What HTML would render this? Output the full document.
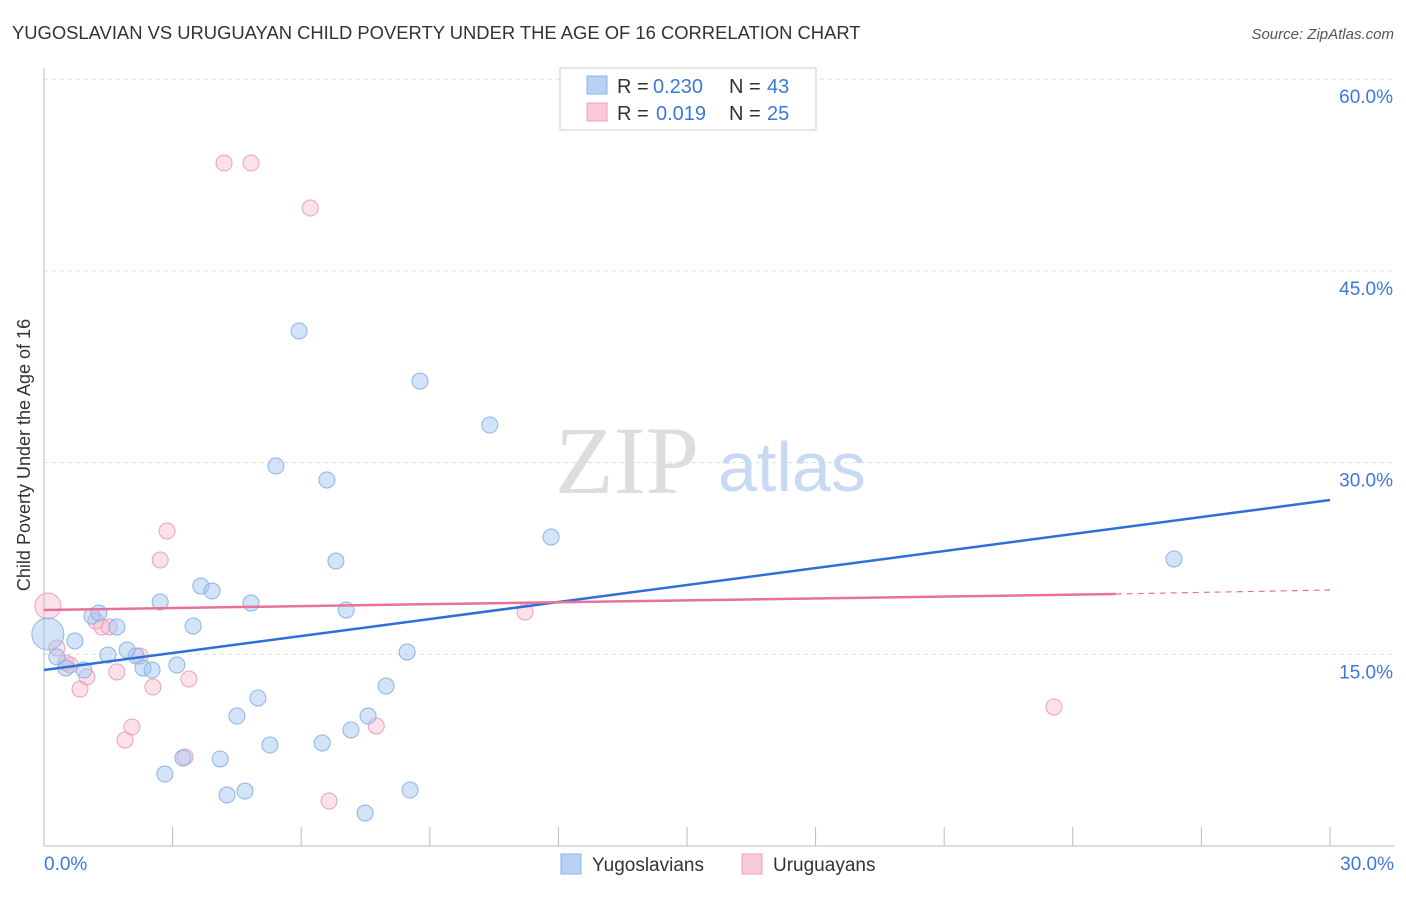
<!DOCTYPE html>
<html><head><meta charset="utf-8"><style>
body{margin:0;background:#fff;font-family:"Liberation Sans",sans-serif;}
svg text{font-family:"Liberation Sans",sans-serif;}
</style></head><body>
<svg width="1406" height="892" xmlns="http://www.w3.org/2000/svg">
<text x="12" y="39" font-size="18.4" fill="#333">YUGOSLAVIAN VS URUGUAYAN CHILD POVERTY UNDER THE AGE OF 16 CORRELATION CHART</text>
<text x="1394" y="39" font-size="15" fill="#555" font-style="italic" text-anchor="end">Source: ZipAtlas.com</text>
<g id="grid"></g>
<g id="axes"></g>
<text x="555" y="493" font-size="96" fill="#ddd" style="font-family:'Liberation Serif',serif">ZIP</text>
<text x="718" y="491" font-size="70" fill="#c8daf3">atlas</text>
<g id="pts"></g>
<g id="lines"></g>
<text x="30" y="455" font-size="18" fill="#333" text-anchor="middle" transform="rotate(-90 30 455)">Child Poverty Under the Age of 16</text>
<g>
<rect x="560" y="68" width="256" height="62" fill="#fff" stroke="#ccc"/>
<rect x="587" y="76" width="20" height="18" fill="#b8d2f5" stroke="#8ab4e8"/>
<rect x="587" y="103" width="20" height="18" fill="#f9cad8" stroke="#f0a0b8"/>
<text x="617" y="93" font-size="20" fill="#333">R =</text>
<text x="653" y="93" font-size="20" fill="#3b78d8">0.230</text>
<text x="729" y="93" font-size="20" fill="#333">N =</text>
<text x="767" y="93" font-size="20" fill="#3b78d8">43</text>
<text x="617" y="120" font-size="20" fill="#333">R =</text>
<text x="656" y="120" font-size="20" fill="#3b78d8">0.019</text>
<text x="729" y="120" font-size="20" fill="#333">N =</text>
<text x="767" y="120" font-size="20" fill="#3b78d8">25</text>
</g>
<g>
<rect x="561" y="854" width="20" height="20" fill="#b8d2f5" stroke="#8ab4e8"/>
<text x="592" y="871" font-size="19" fill="#333">Yugoslavians</text>
<rect x="742" y="854" width="20" height="20" fill="#f9cad8" stroke="#f0a0b8"/>
<text x="773" y="871" font-size="19" fill="#333">Uruguayans</text>
</g>
</svg>
<script>
const blueX=[0.09,0.30,0.51,0.72,0.93,1.12,1.28,1.49,1.70,1.94,2.15,2.31,2.52,2.71,2.82,3.10,3.24,3.48,3.66,3.92,4.11,4.27,4.50,4.69,4.83,4.99,5.27,5.41,5.95,6.49,6.60,6.81,7.05,7.16,7.49,7.56,7.98,8.47,8.54,8.77,10.40,11.83,26.36];
const blueY=[16.59,14.79,13.93,16.04,13.77,17.99,18.23,14.95,17.14,15.34,14.87,13.93,13.77,19.09,5.63,14.16,6.89,17.21,20.34,19.95,6.81,3.99,10.17,4.30,19.01,11.58,7.90,29.73,40.30,8.06,28.64,22.30,18.47,9.08,2.58,10.17,12.52,15.18,4.38,36.38,32.94,24.18,22.46];
const pinkX=[0.09,0.30,0.51,0.61,0.84,1.00,1.21,1.35,1.52,1.70,1.89,2.05,2.24,2.54,2.71,2.87,3.29,3.38,4.20,4.83,6.21,6.65,7.75,11.22,23.56];
const pinkY=[18.78,15.49,14.32,14.16,12.28,13.22,17.61,17.14,17.14,13.62,8.29,9.31,14.87,12.44,22.38,24.65,6.96,13.07,53.44,53.44,49.92,3.52,9.39,18.31,10.88];
const xTicks=[0,3,6,9,12,15,18,21,24,27,30];
const yTicks=[15,30,45,60];
const yTickLabels=["15.0%","30.0%","45.0%","60.0%"];
const blueTrend=[13.77,27.07];
const pinkTrend=[18.47,19.72,20.03];
const NS="http://www.w3.org/2000/svg";
const X=v=>44+v/30*1286, Y=v=>846-v/15*191.7;
function mk(t,a,p){const e=document.createElementNS(NS,t);for(const k in a)e.setAttribute(k,a[k]);p.appendChild(e);return e;}
const grid=document.getElementById('grid'),axes=document.getElementById('axes');
yTicks.forEach((t,i)=>{
 const l=mk('line',{x1:44,x2:1394,y1:Y(t),y2:Y(t),stroke:'#ddd','stroke-dasharray':'4,4'},grid);
 
 
 const tx=mk('text',{x:1393,y:Y(t)+24,'font-size':19,fill:'#3b78d8','text-anchor':'end'},axes);
 tx.textContent=yTickLabels[i];
 
 
});
const ya=mk('line',{x1:44,x2:44,y1:68,y2:846,stroke:'#bbb'},axes);


const xa=mk('line',{x1:44,x2:1394,y1:846,y2:846,stroke:'#bbb'},axes);


xTicks.forEach(t=>{const l=mk('line',{x1:X(t),x2:X(t),y1:827,y2:846,stroke:'#bbb'},axes);
 
 });
[[0,'0.0%','start',44],[30,'30.0%','end',1394]].forEach(d=>{const t=mk('text',{x:d[3],y:870,'font-size':19,fill:'#3b78d8','text-anchor':d[2]},axes);t.textContent=d[1];
 
 });
const pts=document.getElementById('pts');
pinkX.forEach((x,i)=>{const c=mk('circle',{cx:X(x),cy:Y(pinkY[i]),r:i==0?13:8,fill:'rgba(245,170,195,0.35)',stroke:'#f0a0b8','stroke-width':1},pts);
 
 });
blueX.forEach((x,i)=>{const c=mk('circle',{cx:X(x),cy:Y(blueY[i]),r:i==0?16:8,fill:'rgba(160,195,240,0.45)',stroke:'#8ab4e8','stroke-width':1},pts);
 
 });
const lines=document.getElementById('lines');
const bl=mk('line',{x1:X(0),y1:Y(blueTrend[0]),x2:X(30),y2:Y(blueTrend[1]),stroke:'#2f6fd6','stroke-width':2.5},lines);


const pl=mk('line',{x1:X(0),y1:Y(pinkTrend[0]),x2:X(25),y2:Y(pinkTrend[1]),stroke:'#e8709a','stroke-width':2.5},lines);


const pd=mk('line',{x1:X(25),y1:Y(pinkTrend[1]),x2:X(30),y2:Y(pinkTrend[2]),stroke:'#e8709a','stroke-width':1.2,'stroke-dasharray':'6,5'},lines);


</script>
</body></html>
